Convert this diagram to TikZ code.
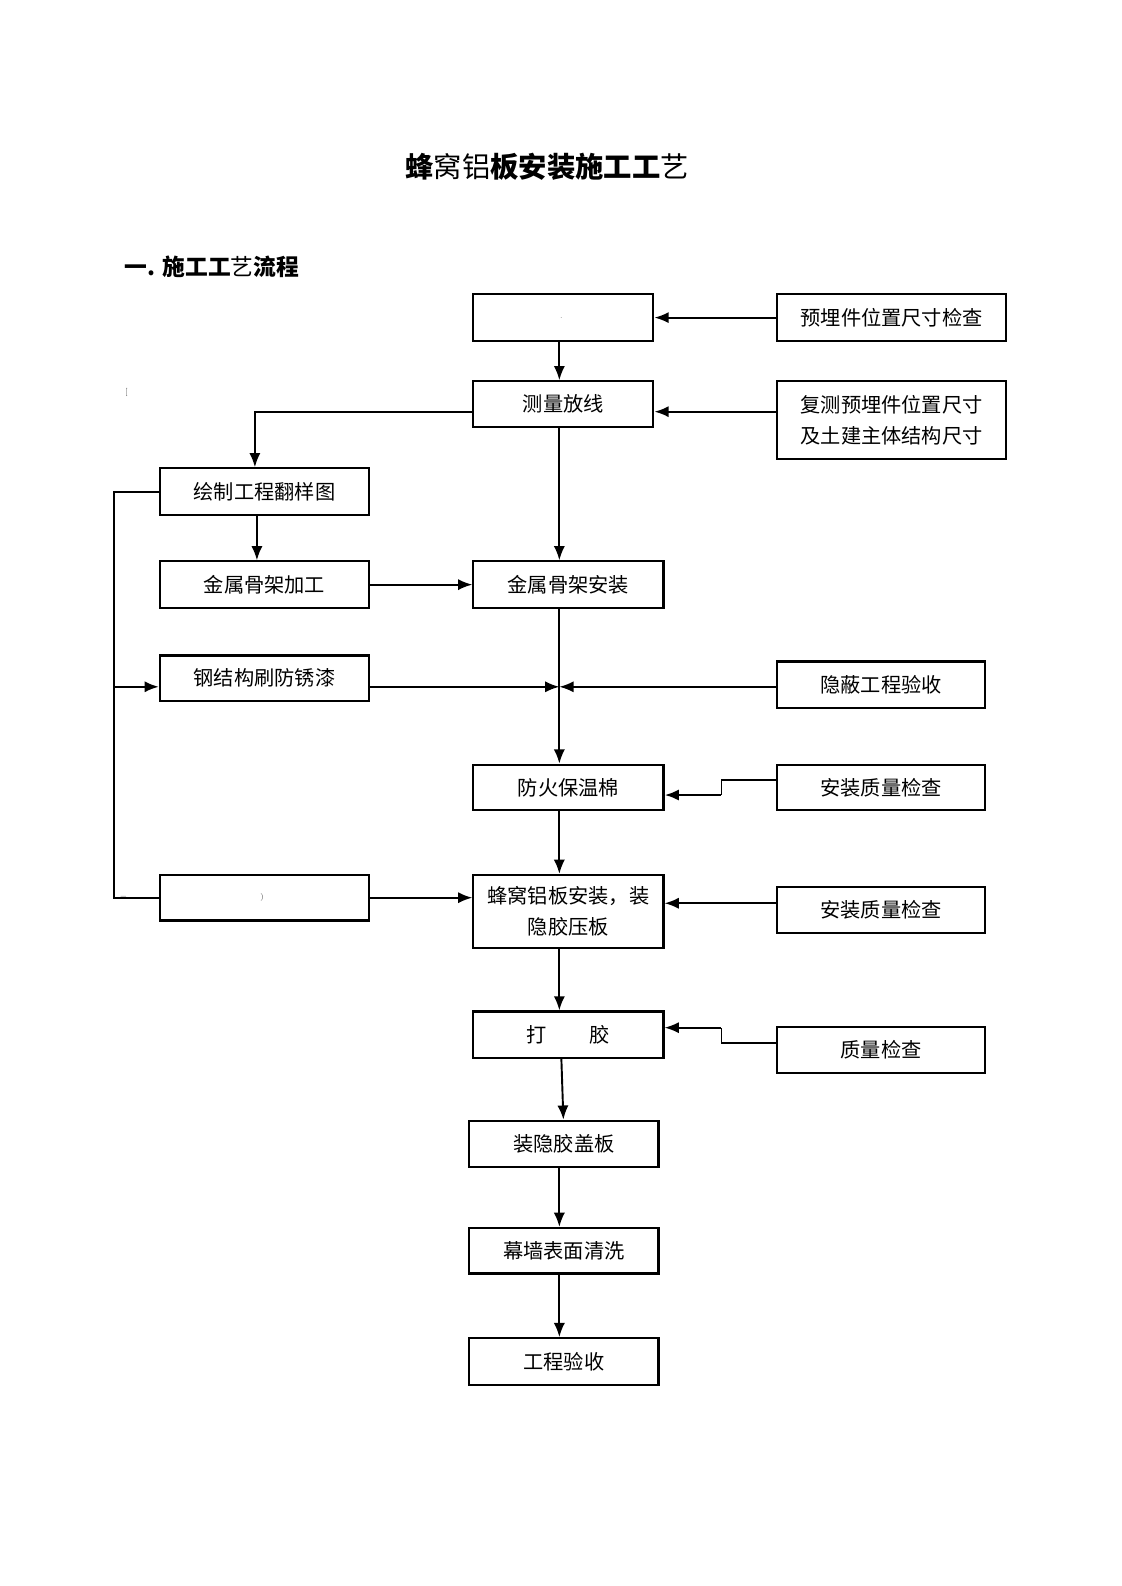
\documentclass[tikz,border=0pt]{standalone}
\usepackage{fontspec}
\newfontfamily\cjk{Noto Sans CJK SC}
\usetikzlibrary{arrows.meta}
\begin{document}
\begin{tikzpicture}[x=1pt,y=1pt,
  box/.style={draw, line width=2.1pt, inner sep=0pt, align=center, font=\cjk\fontsize{20}{31}\selectfont},
  conn/.style={line width=1.9pt},
  arr/.style={conn, -{Latex[length=14pt,width=11pt]}},
  speck/.style={font=\fontsize{8}{8}\selectfont, text=black!70, inner sep=0pt}]
\useasboundingbox[fill=white] (0,0) rectangle (1109,-1568);
% titles
\node[font=\cjk\fontsize{28}{30}\selectfont] (title) at (541,-165) {\textbf{蜂}窝铝\textbf{板安装施工工}艺};
\node[font=\cjk\fontsize{22.5}{26}\selectfont, anchor=west] (head) at (120,-264) {\textbf{一. 施工工}艺\textbf{流程}};
% boxes
\node[box, minimum width=178pt, minimum height=46pt] (b0) at (557,-314) {};
\node[box, minimum width=227pt, minimum height=46pt] (p1) at (881.5,-314) {预埋件位置尺寸检查};
\node[box, minimum width=178pt, minimum height=45pt] (b1) at (557,-399.5) {测量放线};
\node[box, minimum width=227pt, minimum height=77pt] (p2) at (881.5,-415.5) {复测预埋件位置尺寸\\及土建主体结构尺寸};
\node[box, minimum width=207pt, minimum height=46pt] (b2) at (261.5,-486) {绘制工程翻样图};
\node[box, minimum width=207pt, minimum height=46pt] (b3) at (261.5,-578) {金属骨架加工};
\node[box, minimum width=188pt, minimum height=46pt] (b4) at (562,-578) {金属骨架安装};
\node[box, minimum width=207pt, minimum height=45pt] (b5) at (261.5,-670.5) {钢结构刷防锈漆};
\node[box, minimum width=206pt, minimum height=46pt] (p3) at (871,-677) {隐蔽工程验收};
\node[box, minimum width=188pt, minimum height=45pt] (b6) at (562,-778.5) {防火保温棉};
\node[box, minimum width=206pt, minimum height=45pt] (p4) at (871,-778.5) {安装质量检查};
\node[box, minimum width=207pt, minimum height=45pt] (b7) at (261.5,-887.5) {};
\node[box, minimum width=188pt, minimum height=72pt] (b8) at (562,-901) {蜂窝铝板安装，装\\隐胶压板};
\node[box, minimum width=206pt, minimum height=45pt] (p5) at (871,-899.5) {安装质量检查};
\node[box, minimum width=188pt, minimum height=46pt] (b9) at (562,-1023) {打\hspace{42pt}胶};
\node[box, minimum width=206pt, minimum height=46pt] (p6) at (871,-1038) {质量检查};
\node[box, minimum width=187pt, minimum height=46pt] (b10) at (557.5,-1131) {装隐胶盖板};
\node[box, minimum width=187pt, minimum height=45pt] (b11) at (557.5,-1236.5) {幕墙表面清洗};
\node[box, minimum width=187pt, minimum height=46pt] (b12) at (557.5,-1346) {工程验收};
% specks
\node[speck] (s0) at (555,-314) {.};
\node[speck] (s1) at (259,-887) {)};
\node[speck] (s2) at (125,-388) {[};
\node[speck] (s3) at (122,-888) {=};
% helper coordinates
\coordinate (mx) at (553,0);
\coordinate (lx) at (252,0);
\coordinate (dx) at (254,0);
\coordinate (ox) at (113,0);
\coordinate (y2) at (0,-407);
\coordinate (j) at (553,-679);
\coordinate (y5) at (0,-893);
% connectors
\draw[arr] (p1.west) -- (b0.east);
\draw[arr] (b0.south -| mx) -- (b1.north -| mx);
\draw[arr] (p2.west |- y2) -- (b1.east |- y2);
\draw[arr] (b1.west |- y2) -| (b2.north -| lx);
\draw[arr] (b1.south -| mx) -- (b4.north -| mx);
\draw[arr] (b2.south -| dx) -- (b3.north -| dx);
\draw[arr] (b3.east) -- (b4.west);
\draw[arr] (b4.south -| mx) -- (b6.north -| mx);
\draw[arr] (b5.east |- j) -- (j);
\draw[arr] (p3.west |- j) -- (j);
\draw[conn] (b2.west) -- (b2.west -| ox) -- (b7.west -| ox) -- (b7.west);
\draw[arr] (j -| ox) -- (j -| b5.west);
\draw[arr] (b6.south -| mx) -- (b8.north -| mx);
\draw[conn, line width=1.3pt] (p4.west |- 0,-771) -- (713,-771) -- (713,-786);
\draw[arr, line width=2.6pt] (713,-786) -- (b6.east |- 0,-786);
\draw[arr] (b7.east) -- (b8.west |- b7.east);
\draw[arr] (p5.west |- y5) -- (b8.east |- y5);
\draw[arr] (b8.south -| mx) -- (b9.north -| mx);
\draw[conn, line width=1.3pt] (p6.west |- 0,-1031) -- (713,-1031) -- (713,-1016);
\draw[arr] (713,-1016) -- (b9.east |- 0,-1016);
\draw[arr] (b9.south -| 555,0) -- (b10.north -| 557,0);
\draw[arr] (b10.south -| mx) -- (b11.north -| mx);
\draw[arr] (b11.south -| mx) -- (b12.north -| mx);
\end{tikzpicture}
\end{document}
